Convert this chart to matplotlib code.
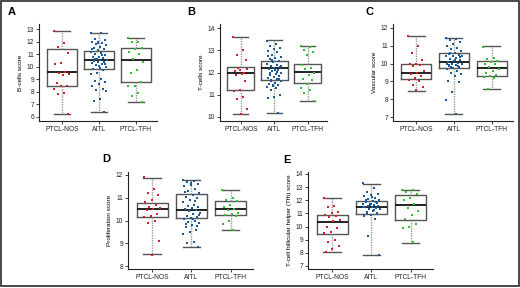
import numpy as np
import matplotlib
matplotlib.use('Agg')
import matplotlib.pyplot as plt
from matplotlib.patches import Rectangle

plt.rcParams['font.family'] = ['Liberation Sans', 'DejaVu Sans']

groups = ['PTCL-NOS', 'AITL', 'PTCL-TFH']
colors = ['#d62027', '#1a5a96', '#2fc12f']

# box stats per panel: (whislo, q1, med, q3, whishi) for each group
a_stats = [(6.25, 8.47, 9.6, 11.41, 12.85), (6.4, 9.8, 10.5, 11.27, 12.7), (7.2, 8.8, 10.55, 11.5, 12.3)]
b_stats = [(10.15, 11.21, 11.99, 12.25, 13.6), (10.2, 11.65, 12.18, 12.52, 13.45), (10.7, 11.55, 12.03, 12.38, 13.2)]
c_stats = [(8.44, 9.13, 9.5, 9.97, 11.57), (7.17, 9.78, 10.08, 10.58, 11.44), (8.59, 9.31, 9.74, 10.14, 10.97)]
d_stats = [(8.51, 10.14, 10.5, 10.75, 11.88), (8.85, 10.1, 10.46, 11.16, 11.78), (9.58, 10.23, 10.49, 10.87, 11.34)]
e_stats = [(8.05, 9.45, 10.35, 10.91, 12.19), (7.82, 10.99, 11.52, 11.96, 13.26), (8.76, 10.5, 11.62, 12.39, 12.8)]

# individual sample scores
a_nos = [12.85, 11.9, 11.6, 11.1, 10.3, 10.2, 9.6, 9.5, 9.4, 9.35, 8.7, 8.5, 8.45, 8.2, 7.9, 7.8, 6.25]
a_aitl = [12.7, 12.65, 12.2, 12.1, 12.0, 11.95, 11.9, 11.8, 11.7, 11.6, 11.5, 11.4, 11.3, 11.2, 11.1,
          11.0, 10.9, 10.8, 10.75, 10.7, 10.6, 10.55, 10.5, 10.45, 10.4, 10.35, 10.3, 10.2, 10.1, 10.0,
          9.9, 9.8, 9.7, 9.5, 9.4, 9.0, 8.9, 8.8, 8.6, 8.5, 8.2, 8.15, 8.1, 7.4, 7.25, 6.4,
          11.85, 11.45, 10.95, 10.65, 10.25, 10.05, 9.85]
a_tfh = [12.3, 12.0, 11.95, 11.5, 11.4, 11.2, 11.0, 10.6, 10.4, 9.7, 9.5, 8.8, 8.5, 8.45, 7.9, 7.7, 7.2]

b_nos = [13.6, 13.0, 12.8, 12.55, 12.1, 12.05, 12.0, 12.2, 12.15, 11.95, 11.9, 11.6, 11.2, 11.15, 10.9, 10.8, 10.35, 10.15]
b_aitl = [13.4, 13.3, 13.2, 13.1, 13.05, 12.95, 12.9, 12.8, 12.7, 12.65, 12.6, 12.5, 12.45, 12.4, 12.35,
          12.3, 12.25, 12.2, 12.15, 12.1, 12.05, 12.0, 11.95, 11.9, 11.85, 11.8, 11.75, 11.7, 11.65, 11.6,
          11.55, 11.5, 11.45, 11.4, 11.35, 11.3, 11.2, 11.0, 10.9, 10.85, 10.2,
          12.55, 12.28, 12.12, 11.98, 11.72, 11.42, 12.75, 12.02, 11.62]
b_tfh = [13.2, 13.15, 13.0, 12.9, 12.8, 12.35, 12.2, 12.15, 12.0, 11.9, 11.7, 11.65, 11.5, 11.3, 11.2, 11.1, 10.7]

c_nos = [11.55, 11.0, 10.6, 10.2, 10.0, 9.95, 9.9, 9.85, 9.6, 9.5, 9.4, 9.3, 9.2, 9.1, 9.05, 8.8, 8.7, 8.5]
c_aitl = [11.45, 11.4, 11.3, 11.2, 11.1, 11.0, 10.85, 10.8, 10.7, 10.6, 10.55, 10.5, 10.45, 10.4, 10.3,
          10.25, 10.2, 10.15, 10.1, 10.05, 10.0, 9.95, 9.9, 9.85, 9.8, 9.75, 9.7, 9.6, 9.5, 9.4,
          9.3, 9.0, 8.95, 8.4, 7.95, 7.2, 10.62, 10.35, 10.12, 9.98, 9.88, 9.82, 10.42, 10.22, 9.92]
c_tfh = [10.95, 10.3, 10.25, 10.15, 10.1, 10.0, 9.95, 9.8, 9.7, 9.6, 9.45, 9.35, 9.3, 9.25, 9.2, 8.6]

d_nos = [11.9, 11.4, 11.2, 11.1, 10.9, 10.8, 10.7, 10.6, 10.55, 10.5, 10.45, 10.3, 10.2, 10.15, 10.0, 9.9, 9.1, 8.5]
d_aitl = [11.8, 11.75, 11.7, 11.6, 11.55, 11.5, 11.4, 11.3, 11.2, 11.1, 11.05, 11.0, 10.9, 10.8, 10.7,
          10.65, 10.6, 10.55, 10.5, 10.45, 10.4, 10.35, 10.3, 10.2, 10.15, 10.1, 10.05, 10.0, 9.95, 9.9,
          9.8, 9.7, 9.6, 9.5, 9.4, 9.05, 9.0, 8.85, 11.65, 11.25, 10.85, 10.48, 10.25, 10.08, 9.85, 9.75]
d_tfh = [11.35, 11.0, 10.9, 10.85, 10.7, 10.6, 10.5, 10.45, 10.35, 10.3, 10.25, 10.2, 10.0, 9.85, 9.6]

e_nos = [12.2, 11.6, 11.5, 11.1, 11.0, 10.9, 10.8, 10.7, 10.5, 10.4, 10.0, 9.9, 9.6, 9.5, 9.0, 8.8, 8.5, 8.3, 8.1]
e_aitl = [13.3, 12.9, 12.6, 12.5, 12.4, 12.3, 12.2, 12.1, 12.0, 11.95, 11.9, 11.8, 11.75, 11.7, 11.65,
          11.6, 11.55, 11.5, 11.45, 11.4, 11.35, 11.3, 11.2, 11.1, 11.0, 10.9, 10.8, 10.6, 9.3, 7.85,
          12.25, 12.05, 11.85, 11.62, 11.48, 11.25, 11.05, 12.45, 11.72, 11.52]
e_tfh = [12.8, 12.75, 12.6, 12.5, 12.2, 12.0, 11.7, 11.4, 11.2, 10.9, 10.6, 10.2, 10.0, 9.9, 8.8]

panels = [
    # letter, ylabel, stats, points, yticks, axes rect in px (left, top, right, bottom), ylim, letter pos px
    ('A', 'B-cells score', a_stats, [a_nos, a_aitl, a_tfh], range(6, 14), (39, 24, 157, 121), (5.68, 13.4), (8, 12)),
    ('B', 'T-cells score', b_stats, [b_nos, b_aitl, b_tfh], range(10, 15), (220, 24, 327, 121), (9.82, 14.18), (187, 12)),
    ('C', 'Vascular score', c_stats, [c_nos, c_aitl, c_tfh], range(7, 13), (393, 24, 513, 121), (6.78, 12.22), (365, 12)),
    ('D', 'Proliferation score', d_stats, [d_nos, d_aitl, d_tfh], range(8, 13), (128, 172, 253, 269), (7.87, 12.13), (102, 159)),
    ('E', 'T-cell follicular helper (Tfh) score', e_stats, [e_nos, e_aitl, e_tfh], range(7, 15), (308, 172, 433, 269), (6.77, 14.15), (283, 160)),
]

W, H = 520, 288
fig = plt.figure(figsize=(W / 100, H / 100), dpi=100)

for letter, ylab, stats, pts, yt, (l, t, r, b), ylim, (lx, ly) in panels:
    ax = fig.add_axes([l / W, 1 - b / H, (r - l) / W, (b - t) / H])
    bx = [dict(whislo=s[0], q1=s[1], med=s[2], q3=s[3], whishi=s[4], fliers=[]) for s in stats]
    ax.bxp(bx, positions=[1, 2, 3], widths=0.8, showfliers=False,
           boxprops=dict(color='#555555', linewidth=1.0),
           medianprops=dict(color='#111111', linewidth=1.3),
           whiskerprops=dict(color='#9a9a9a', linewidth=1.0, linestyle=(0, (1, 0.8))),
           capprops=dict(color='#555555', linewidth=1.0), capwidths=0.45)
    for k, vals in enumerate(pts):
        n = len(vals)
        jit = ((np.arange(n) * 0.618034) % 1 - 0.5) * 0.44
        ax.scatter(np.full(n, k + 1) + jit, vals, s=4, color=colors[k], marker='s',
                   linewidths=0, zorder=3)
    ax.set_xlim(0.38, 3.57)
    ax.set_ylim(*ylim)
    ax.set_yticks(list(yt))
    ax.set_xticks([1, 2, 3])
    ax.set_xticklabels(groups)
    ax.tick_params(labelsize=4.8, length=2, width=0.6, pad=1.5, colors='#222222')
    for sp in ['top', 'right']:
        ax.spines[sp].set_visible(False)
    for sp in ['left', 'bottom']:
        ax.spines[sp].set_linewidth(0.8)
        ax.spines[sp].set_color('#222222')
    ax.set_ylabel(ylab, fontsize=4.6, labelpad=2.5)
    fig.text(lx / W, 1 - ly / H, letter, fontsize=8, fontweight='bold',
             ha='left', va='center')

fig.add_artist(Rectangle((0.5 / W, 2 / H), (W - 1.5) / W, (H - 2.5) / H, transform=fig.transFigure,
                         fill=False, edgecolor='#2a2a2a', linewidth=1.2))

fig.savefig('out.png', dpi=100)
